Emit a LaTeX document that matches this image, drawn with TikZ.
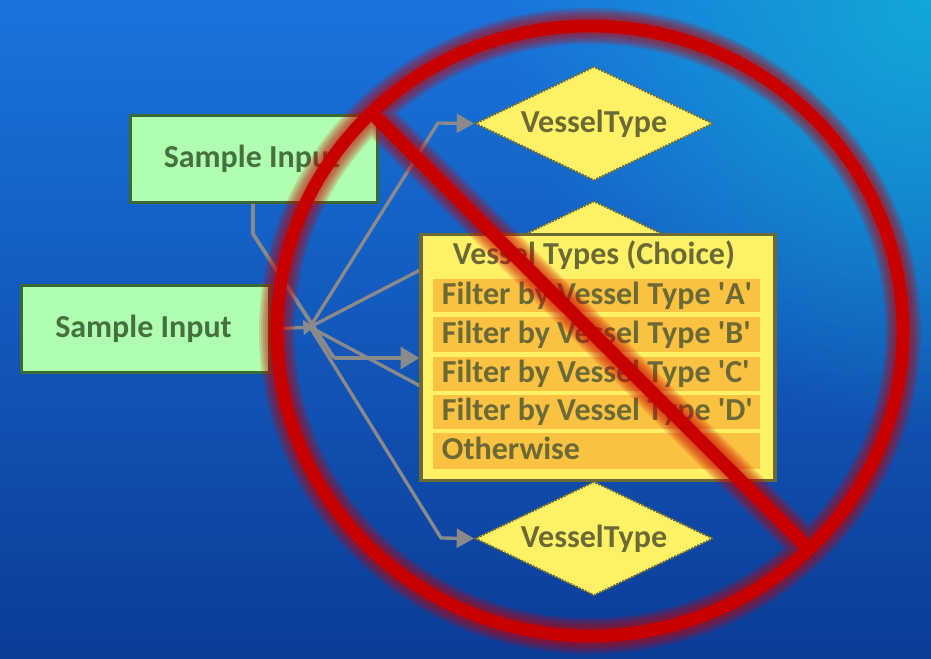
\documentclass[tikz,border=0pt]{standalone}
\usepackage{fontspec}
\setmainfont{Carlito}
\usetikzlibrary{arrows.meta,shapes.geometric,fadings}
\definecolor{bgtop}{HTML}{1A74DC}
\definecolor{bgbot}{HTML}{0B3C98}
\definecolor{bgcorner}{HTML}{12A8D8}
\definecolor{greenfill}{HTML}{B0FFB0}
\definecolor{greenline}{HTML}{3C6A34}
\definecolor{greentext}{HTML}{47703F}
\definecolor{yellowfill}{HTML}{FFF166}
\definecolor{oliveline}{HTML}{6B6A36}
\definecolor{orangefill}{HTML}{FBC141}
\definecolor{conngrey}{HTML}{8A8A8A}
\definecolor{banred}{HTML}{C80000}
\tikzfading[name=cornerfade, inner color=transparent!0, outer color=transparent!100]
\newcommand{\labelfont}{\bfseries\fontsize{24}{26}\selectfont}
\newcommand{\vq}{\textquotesingle}
\newcommand{\rowtext}[1]{\makebox[245pt][l]{\rule[-4pt]{0pt}{19pt}\hspace*{6.6pt}#1}}
\tikzset{
  greenbox/.style={draw=greenline,fill=greenfill,line width=2.4pt,minimum width=185.5pt,minimum height=65pt,inner sep=0pt,font=\labelfont,text=greentext},
  decision/.style={diamond,aspect=2.07,draw=oliveline,densely dotted,fill=yellowfill,line width=1.4pt,minimum width=178.5pt,minimum height=85.5pt,inner sep=0pt,font=\labelfont,text=oliveline},
  choicebox/.style={draw=oliveline,fill=yellowfill,line width=2.4pt,minimum width=265.5pt,minimum height=184pt,inner sep=0pt},
  rowbox/.style={fill=orangefill,inner sep=0pt,text=oliveline,font=\labelfont},
  conn/.style={draw=conngrey,line width=2.5pt,line join=bevel},
  connarrow/.style={conn,-{Triangle[length=13pt,width=14pt]}},
  bigarrow/.style={conn,line width=3.4pt,-{Triangle[length=14pt,width=16pt]}},
}
\begin{document}
\begin{tikzpicture}[x=0.75pt,y=-0.75pt]
\useasboundingbox (0,0) rectangle (931,658);
% background
\shade[bottom color=bgbot,top color=bgtop] (0,0) rectangle (931,658);
\begin{scope}
\clip (0,0) rectangle (931,658);
\fill[bgcorner,path fading=cornerfade] (931,0) circle (430);
\end{scope}
% junction and bends
\coordinate (hub) at (314,327);
\coordinate (bendA) at (253,234);
\coordinate (bendB) at (334,358);
\coordinate (bendT) at (438,123);
\coordinate (bendD) at (441,538);
\coordinate (jn) at (310,327);
\coordinate (upper) at (424,268);
\coordinate (lower) at (424,388);
% shapes under connectors
\node[greenbox] (inA) at (254,159) {\hspace*{-3pt}Sample Input};
\node[greenbox] (inB) at (145.5,329) {\hspace*{-3pt}Sample Input};
\node[decision] (dTop) at (594,123.5) {VesselType};
\node[decision] (dMid) at (594,258) {};
\node[decision] (dBot) at (594,538.5) {VesselType};
% connectors
\draw[conn,-{Triangle[length=8pt,width=11pt]}] (inB.east) -- (hub);
\draw[connarrow] (jn) -- (bendT) -- (dTop.west);
\draw[connarrow] (jn) -- (bendD) -- (dBot.west);
\draw[conn] (jn) -- (upper);
\draw[conn] (jn) -- (lower);
\draw[conn,line width=2.8pt] (inA.south -| bendA) -- (bendA) -- (bendB);
% choice box
\node[choicebox] (choice) at (598,357.5) {};
\node[text=oliveline,font=\labelfont] (title) at (594,255) {Vessel Types (Choice)};
\node[rowbox,minimum height=25pt] (r1) at (596.5,295.5) {\rowtext{Filter by Vessel Type \vq A\vq}};
\node[rowbox,minimum height=26pt] (r2) at (596.5,334.5) {\rowtext{Filter by Vessel Type \vq B\vq}};
\node[rowbox,minimum height=25pt] (r3) at (596.5,374) {\rowtext{Filter by Vessel Type \vq C\vq}};
\node[rowbox,minimum height=25pt] (r4) at (596.5,412) {\rowtext{Filter by Vessel Type \vq D\vq}};
\node[rowbox,minimum height=27pt] (r5) at (596.5,451) {\rowtext{Otherwise}};
\draw[bigarrow] (bendB) -- (bendB -| choice.west);
% prohibition sign
\coordinate (slashA) at (372,113);
\coordinate (slashB) at (808,548);
\foreach \w in {27,24,21,18,15,12}{
  \draw[banred,opacity=0.15,line width=\w pt] (590,331) ellipse [x radius=313,y radius=305] (slashA) -- (slashB);
}
\draw[banred,line width=9.5pt] (590,331) ellipse [x radius=313,y radius=305];
\draw[banred,line width=10pt] (slashA) -- (slashB);
\end{tikzpicture}
\end{document}
